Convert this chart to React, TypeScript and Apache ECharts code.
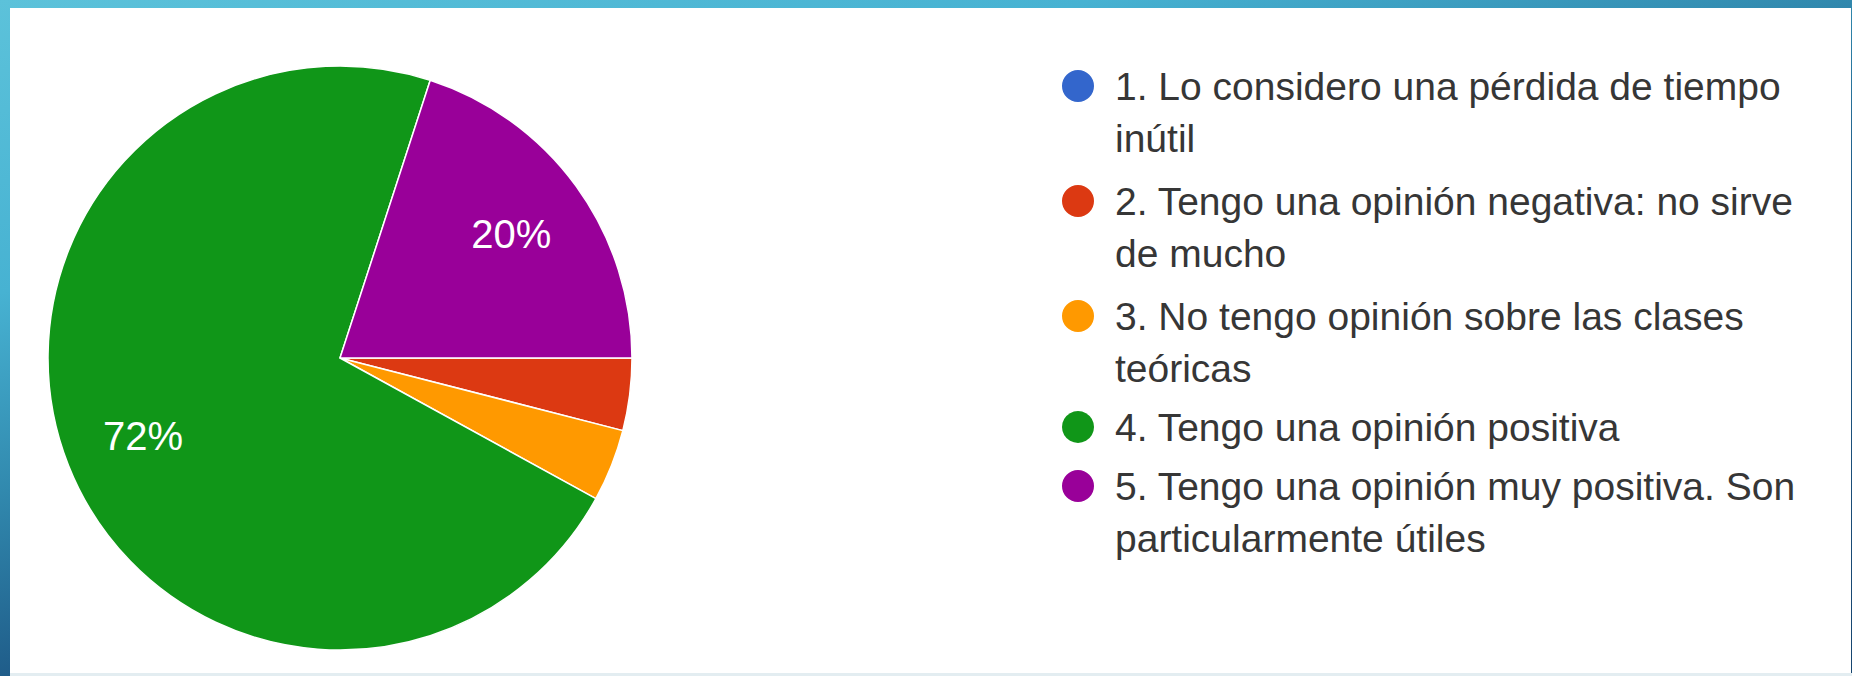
import React, { useEffect, useRef } from "react";
import * as echarts from "echarts";

// ---- data ----
const categories: string[] = [
  "1. Lo considero una pérdida de tiempo\ninútil",
  "2. Tengo una opinión negativa: no sirve\nde mucho",
  "3. No tengo opinión sobre las clases\nteóricas",
  "4. Tengo una opinión positiva",
  "5. Tengo una opinión muy positiva. Son\nparticularmente útiles",
];
const responses: number[] = [0, 1, 1, 18, 5];
const sliceColors: string[] = ["#3366cc", "#dc3912", "#ff9900", "#109618", "#990099"];

// circle placed in the upper part of a taller box so it lines up with the first text line
const TALL_ICON =
  "path://M16,0L16.01,0ZM0,30a16,16 0 1,0 32,0a16,16 0 1,0 -32,0ZM16,112L16.01,112Z";

export default function App() {
  const ref = useRef<HTMLDivElement>(null);

  useEffect(() => {
    if (!ref.current) return;
    const chart = echarts.init(ref.current, undefined, { renderer: "svg" });
    const center = [330, 350];
    const R = 292;
    const pieData = categories.map((name, i) => ({
      name,
      value: responses[i],
      itemStyle: { color: sliceColors[i] },
    }));
    chart.setOption({
      animation: false,
      backgroundColor: "#ffffff",
      legend: {
        orient: "vertical",
        left: 1047,
        top: 43,
        itemWidth: 32,
        itemHeight: 112,
        itemGap: 3,
        itemStyle: { borderWidth: 0 },
        data: categories.map((name) => ({
          name,
          icon: name.indexOf("\n") >= 0 ? TALL_ICON : "circle",
        })),
        textStyle: {
          fontFamily: "'Liberation Sans', Arial, sans-serif",
          fontSize: 39,
          lineHeight: 52,
          color: "#363636",
          padding: [0, 0, 0, 16],
        },
      },
      series: [
        {
          type: "pie",
          center,
          radius: R,
          startAngle: 0,
          clockwise: true,
          data: pieData,
          label: { show: false },
          labelLine: { show: false },
          itemStyle: { borderColor: "#ffffff", borderWidth: 1.5 },
          emphasis: { scale: false },
        },
        {
          type: "pie",
          center,
          radius: [R * 0.43, R],
          startAngle: 0,
          clockwise: true,
          silent: true,
          data: categories.map((name, i) => ({ name, value: responses[i] })),
          itemStyle: { color: "rgba(0,0,0,0)", borderWidth: 0 },
          labelLine: { show: false },
          label: {
            show: true,
            position: "inside",
            color: "#ffffff",
            fontSize: 40,
            padding: [14, 0, 0, 0],
            fontFamily: "'Liberation Sans', Arial, sans-serif",
            formatter: (p: any) => (p.percent >= 10 ? Math.round(p.percent) + "%" : ""),
          },
          emphasis: { disabled: true },
        },
      ],
    });
    return () => chart.dispose();
  }, []);

  return (
    <div
      style={{
        position: "fixed",
        left: 0,
        top: 0,
        width: 1852,
        height: 676,
        background:
          "linear-gradient(165deg, #5cc2da 0%, #47b2d2 25%, #3189ae 42%, #1f5c89 58%, #17456f 100%)",
        overflow: "hidden",
      }}
    >
      <div
        style={{
          position: "absolute",
          left: 10,
          top: 8,
          width: 1841,
          height: 665,
          background: "#ffffff",
        }}
      >
        <div ref={ref} style={{ width: 1841, height: 665 }} />
      </div>
      <div
        style={{
          position: "absolute",
          left: 10,
          top: 673,
          width: 1842,
          height: 3,
          background: "#e3edf1",
        }}
      />
    </div>
  );
}
